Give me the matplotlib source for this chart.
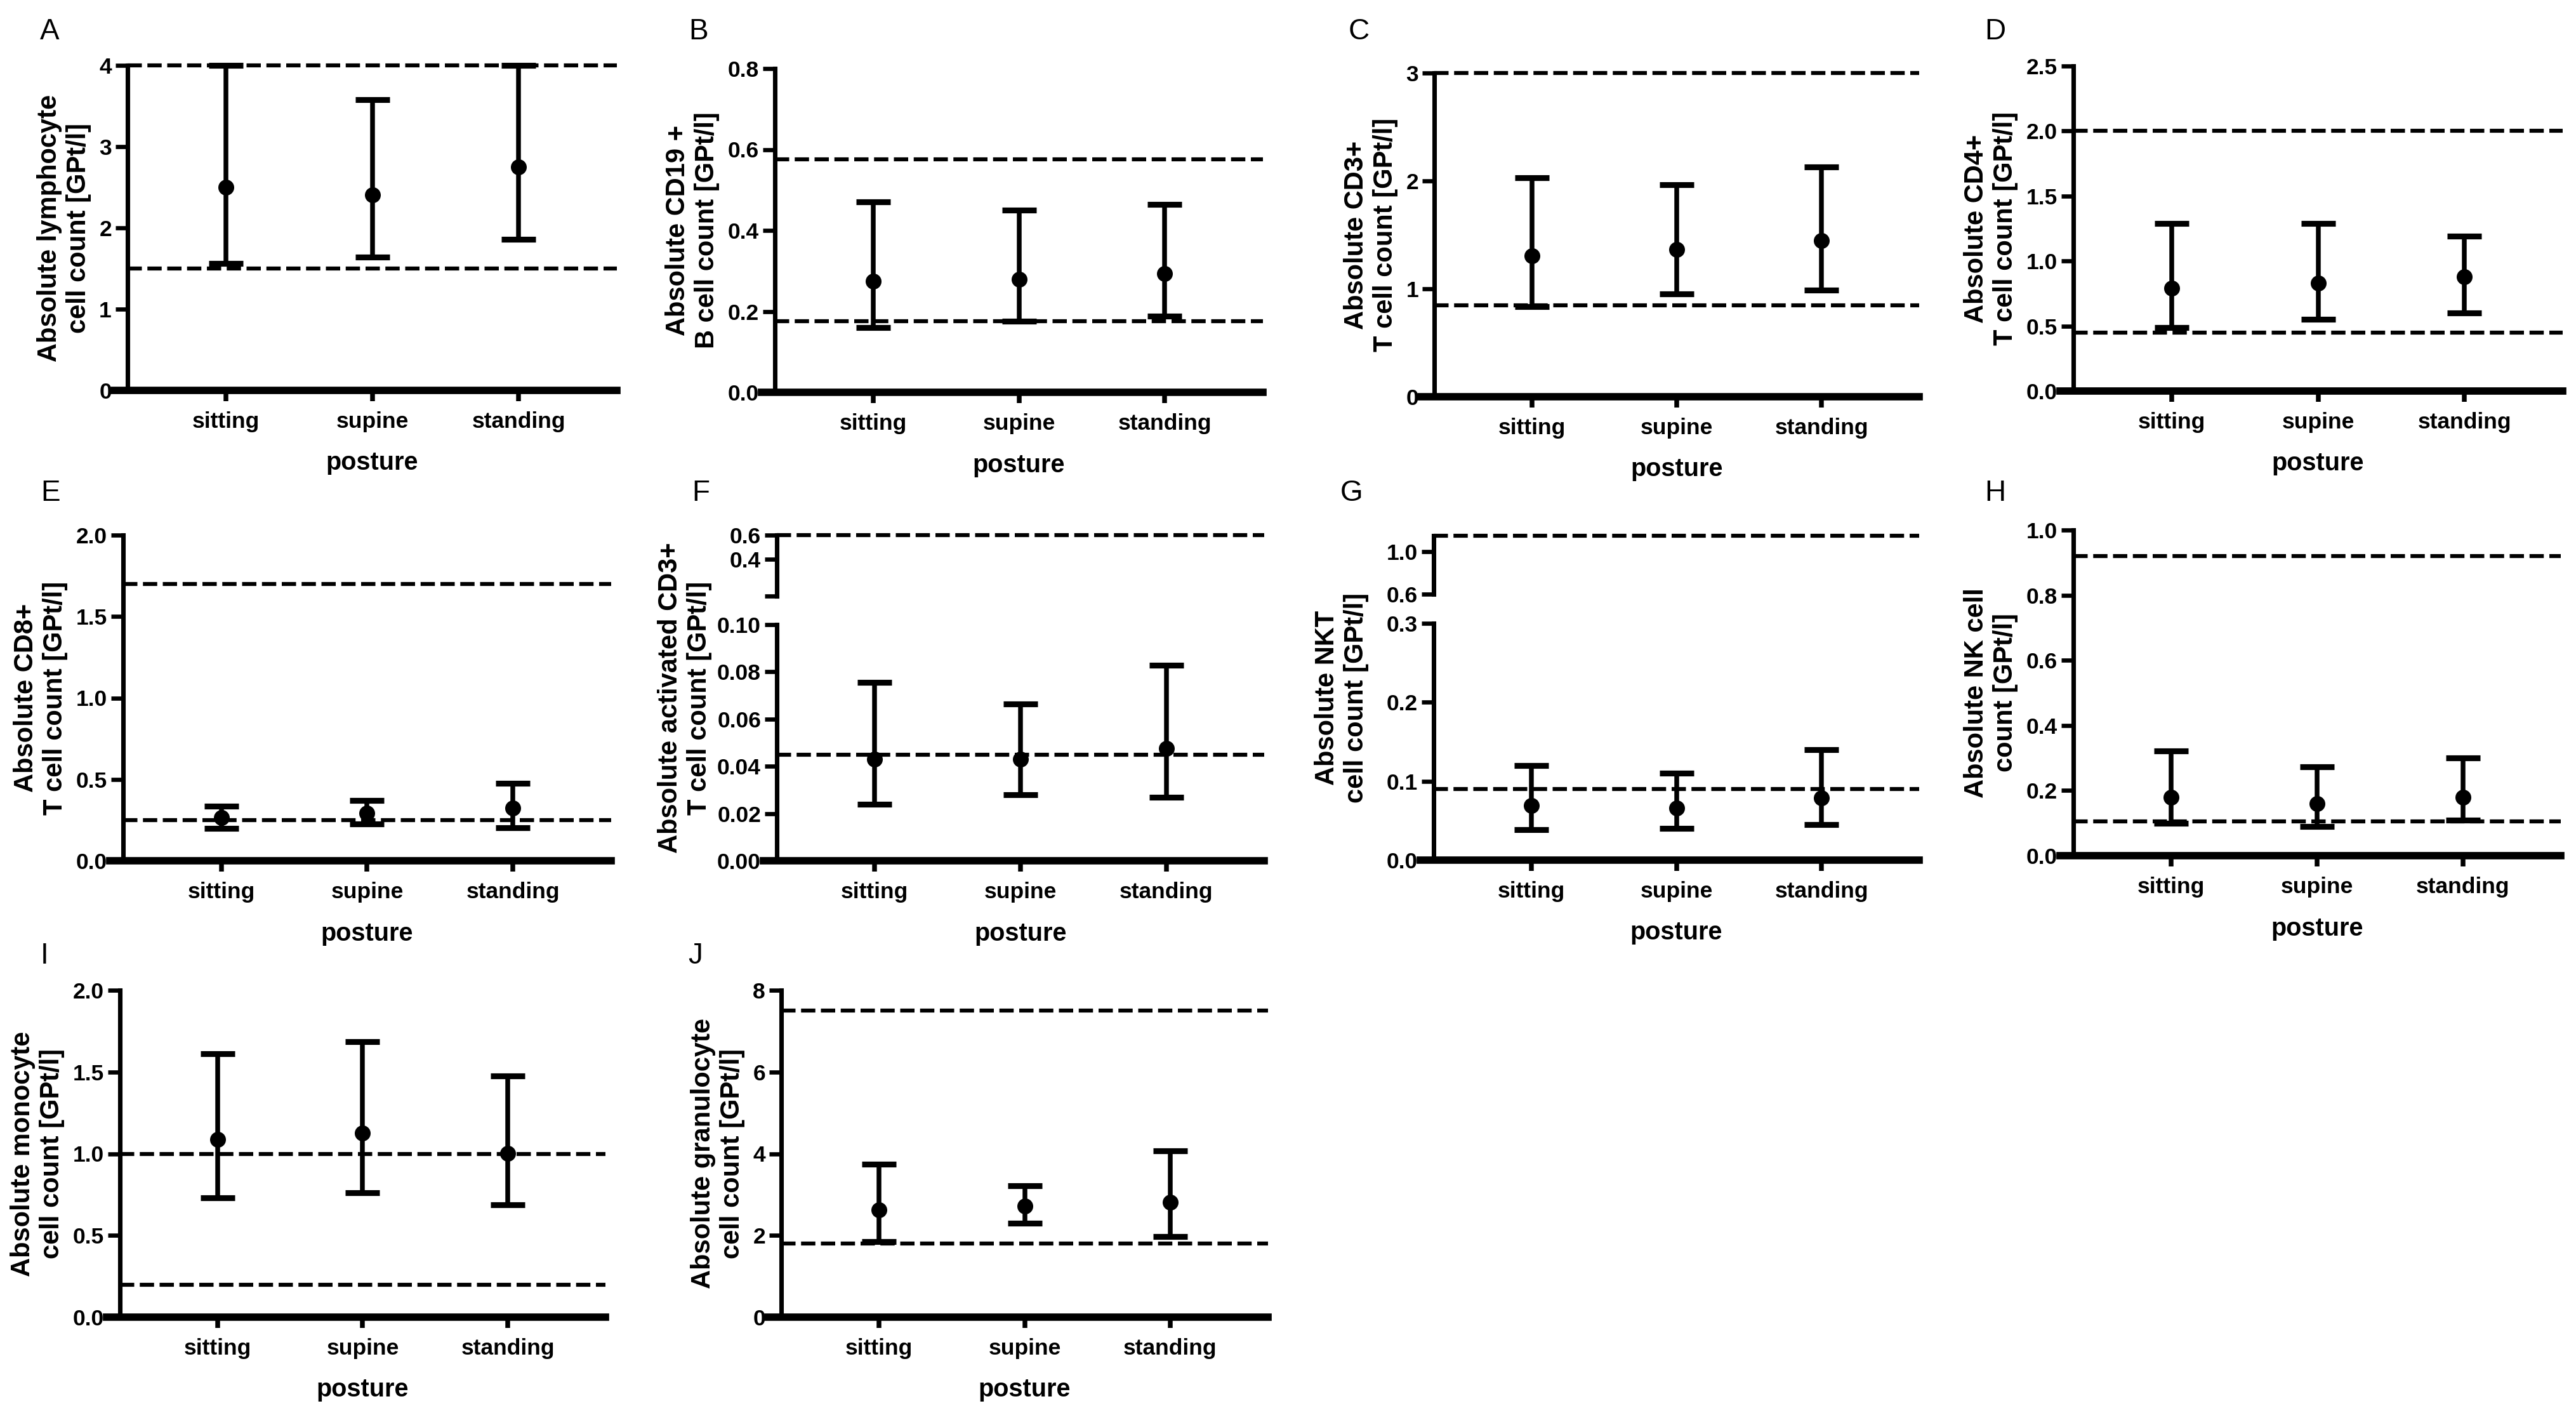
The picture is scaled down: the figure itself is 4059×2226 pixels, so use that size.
import matplotlib
matplotlib.use('Agg')
import matplotlib.pyplot as plt

plt.rcParams['font.family'] = ['Liberation Sans', 'DejaVu Sans']

postures = ['sitting', 'supine', 'standing']

# mean, lower and upper end of the range per posture, plus reference lines
lymph_mean = [2.50, 2.41, 2.75]
lymph_low = [1.56, 1.64, 1.86]
lymph_high = [4.00, 3.58, 4.00]
lymph_ref = [1.5, 4.0]

cd19_mean = [0.274, 0.279, 0.294]
cd19_low = [0.160, 0.175, 0.188]
cd19_high = [0.471, 0.450, 0.465]
cd19_ref = [0.175, 0.575]

cd3_mean = [1.305, 1.362, 1.447]
cd3_low = [0.835, 0.954, 0.991]
cd3_high = [2.031, 1.966, 2.128]
cd3_ref = [0.85, 3.0]

cd4_mean = [0.79, 0.83, 0.88]
cd4_low = [0.49, 0.55, 0.60]
cd4_high = [1.29, 1.29, 1.19]
cd4_ref = [0.45, 2.0]

cd8_mean = [0.265, 0.293, 0.322]
cd8_low = [0.200, 0.227, 0.204]
cd8_high = [0.335, 0.369, 0.477]
cd8_ref = [0.25, 1.7]

act_mean = [0.043, 0.043, 0.0476]
act_low = [0.024, 0.028, 0.027]
act_high = [0.0756, 0.0665, 0.0827]
act_ref = [0.045, 0.6]

nkt_mean = [0.069, 0.066, 0.079]
nkt_low = [0.039, 0.040, 0.045]
nkt_high = [0.120, 0.110, 0.140]
nkt_ref = [0.09, 1.15]

nk_mean = [0.179, 0.160, 0.179]
nk_low = [0.099, 0.090, 0.110]
nk_high = [0.321, 0.272, 0.300]
nk_ref = [0.105, 0.92]

mono_mean = [1.086, 1.126, 1.003]
mono_low = [0.731, 0.760, 0.689]
mono_high = [1.611, 1.687, 1.474]
mono_ref = [0.2, 1.0]

gran_mean = [2.63, 2.72, 2.81]
gran_low = [1.85, 2.30, 1.98]
gran_high = [3.75, 3.21, 4.07]
gran_ref = [1.8, 7.5]

ylabels = {
    'A': 'Absolute lymphocyte\ncell count [GPt/l]',
    'B': 'Absolute CD19 +\nB cell count [GPt/l]',
    'C': 'Absolute CD3+\nT cell count [GPt/l]',
    'D': 'Absolute CD4+\nT cell count [GPt/l]',
    'E': 'Absolute CD8+\nT cell count [GPt/l]',
    'F': 'Absolute activated CD3+\nT cell count [GPt/l]',
    'G': 'Absolute NKT\ncell count [GPt/l]',
    'H': 'Absolute NK cell\ncount [GPt/l]',
    'I': 'Absolute monocyte\ncell count [GPt/l]',
    'J': 'Absolute granulocyte\ncell count [GPt/l]',
}

data = {
    'A': (lymph_mean, lymph_low, lymph_high, lymph_ref),
    'B': (cd19_mean, cd19_low, cd19_high, cd19_ref),
    'C': (cd3_mean, cd3_low, cd3_high, cd3_ref),
    'D': (cd4_mean, cd4_low, cd4_high, cd4_ref),
    'E': (cd8_mean, cd8_low, cd8_high, cd8_ref),
    'F': (act_mean, act_low, act_high, act_ref),
    'G': (nkt_mean, nkt_low, nkt_high, nkt_ref),
    'H': (nk_mean, nk_low, nk_high, nk_ref),
    'I': (mono_mean, mono_low, mono_high, mono_ref),
    'J': (gran_mean, gran_low, gran_high, gran_ref),
}

# y ticks (values, decimals); broken axes get a second entry for the upper part
yticks = {
    'A': ([0, 1, 2, 3, 4], 0),
    'B': ([0, 0.2, 0.4, 0.6, 0.8], 1),
    'C': ([0, 1, 2, 3], 0),
    'D': ([0, 0.5, 1.0, 1.5, 2.0, 2.5], 1),
    'E': ([0, 0.5, 1.0, 1.5, 2.0], 1),
    'F': ([0, 0.02, 0.04, 0.06, 0.08, 0.10], 2),
    'G': ([0, 0.1, 0.2, 0.3], 1),
    'H': ([0, 0.2, 0.4, 0.6, 0.8, 1.0], 1),
    'I': ([0, 0.5, 1.0, 1.5, 2.0], 1),
    'J': ([0, 2, 4, 6, 8], 0),
}
upper_ticks = {
    'F': ([0.1, 0.4, 0.6], ['', '0.4', '0.6']),
    'G': ([0.6, 1.0], ['0.6', '1.0']),
}
upper_lim = {'F': (0.1, 0.6), 'G': (0.6, 1.15)}

# layout in pixels: left, right, top, bottom (upper part top/bottom for broken axes)
W, H = 4059, 2226
boxes = {
    'A': (201, 972, 103, 615),
    'B': (1221, 1990, 108, 618),
    'C': (2260, 3024, 115, 625),
    'D': (3267, 4038, 104, 616),
    'E': (194, 963, 843, 1356),
    'F': (1224, 1992, 984, 1356),
    'G': (2259, 3024, 982, 1355),
    'H': (3267, 4035, 835, 1348),
    'I': (189, 954, 1560, 2075),
    'J': (1231, 1998, 1560, 2075),
}
upper_boxes = {'F': (843, 939), 'G': (844, 936)}
letter_pos = {
    'A': (63, 28), 'B': (1085, 28), 'C': (2125, 28), 'D': (3127, 28),
    'E': (64, 755), 'F': (1090, 755), 'G': (2112, 755), 'H': (3127, 755),
    'I': (64, 1484), 'J': (1084, 1484),
}

x = [1, 2, 3]
xlim = (0.328, 3.672)
TICK_FS = 8.5
LAB_FS = 9.5
YLAB_FS = 10


def rect(l, r, t, b):
    return [l / W, 1 - b / H, (r - l) / W, (b - t) / H]


def style_axis(ax, lower=True):
    for s in ['top', 'right']:
        ax.spines[s].set_visible(False)
    ax.spines['left'].set_linewidth(1.7)
    ax.set_xlim(*xlim)
    ax.tick_params(axis='y', direction='out', length=4.5, width=1.6,
                   labelsize=TICK_FS, pad=1.5)
    if lower:
        ax.spines['bottom'].set_linewidth(2.8)
        ax.spines['bottom'].set_bounds(xlim[0] - 0.09, xlim[1])
        ax.set_xticks(x)
        ax.set_xticklabels(postures, fontsize=TICK_FS, fontweight='bold')
        ax.tick_params(axis='x', direction='out', length=4, width=1.8, pad=4)
        ax.set_xlabel('posture', fontsize=LAB_FS, fontweight='bold', labelpad=7)
    else:
        ax.spines['bottom'].set_visible(False)
        ax.set_xticks([])
    for lab in ax.get_yticklabels():
        lab.set_fontweight('bold')


def dashed(ax, y):
    ax.axhline(y, color='black', lw=1.5, ls=(0, (3.6, 1.4)), clip_on=False, zorder=1)


fig = plt.figure(figsize=(W / 300, H / 300), dpi=300)

for key in 'ABCDEFGHIJ':
    mean, low, high, ref = data[key]
    l, r, t, b = boxes[key]
    ax = fig.add_axes(rect(l, r, t, b))
    ticks, dec = yticks[key]
    ax.set_ylim(ticks[0], ticks[-1])
    ax.set_yticks(ticks)
    ax.set_yticklabels([f'{v:.{dec}f}' for v in ticks])
    style_axis(ax)

    yerr = [[m - lo for m, lo in zip(mean, low)], [hi - m for m, hi in zip(mean, high)]]
    ax.errorbar(x, mean, yerr=yerr, fmt='o', color='black', ms=5, lw=1.8,
                capsize=6.5, capthick=2.2, clip_on=False, zorder=3)

    if key in upper_boxes:
        ut, ub = upper_boxes[key]
        axu = fig.add_axes(rect(l, r, ut, ub))
        axu.set_ylim(*upper_lim[key])
        vals, labs = upper_ticks[key]
        axu.set_yticks(vals)
        axu.set_yticklabels(labs)
        style_axis(axu, lower=False)
        for v in ref:
            dashed(axu if v > ticks[-1] else ax, v)
        # label centred over both parts
        centre = ((ut + b) / 2 - t) / (b - t)
        ax.set_ylabel(ylabels[key], fontsize=YLAB_FS, fontweight='bold')
        ax.yaxis.set_label_coords(-0.133, 1 - centre)
    else:
        for v in ref:
            dashed(ax, v)
        ax.set_ylabel(ylabels[key], fontsize=YLAB_FS, fontweight='bold', labelpad=3)

    lx, ly = letter_pos[key]
    fig.text(lx / W, 1 - ly / H, key, fontsize=11, ha='left', va='top')

fig.savefig('out.png', dpi=300, facecolor='white')
